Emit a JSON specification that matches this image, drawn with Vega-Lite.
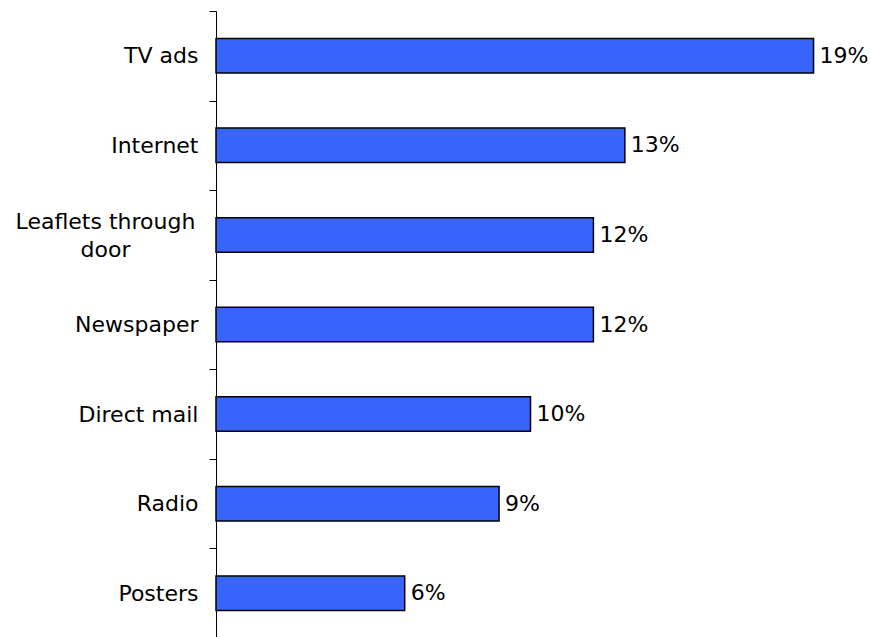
{
  "$schema": "https://vega.github.io/schema/vega-lite/v6.json",
  "autosize": {"type": "none"},
  "padding": {"left": 216, "top": 11, "right": 26, "bottom": 0},
  "width": 629,
  "height": 627,
  "background": "white",
  "config": {
    "view": {"stroke": null},
    "font": "DejaVu Sans"
  },
  "data": {
    "values": [
      {"source": "TV ads", "share": 0.19},
      {"source": "Internet", "share": 0.13},
      {"source": "Leaflets through door", "share": 0.12},
      {"source": "Newspaper", "share": 0.12},
      {"source": "Direct mail", "share": 0.10},
      {"source": "Radio", "share": 0.09},
      {"source": "Posters", "share": 0.06}
    ]
  },
  "encoding": {
    "y": {
      "field": "source",
      "type": "nominal",
      "sort": null,
      "scale": {"paddingInner": 0.615, "paddingOuter": 0.3075},
      "axis": {
        "title": null,
        "domainColor": "black",
        "domainWidth": 1,
        "tickColor": "black",
        "tickSize": 7,
        "tickOffset": -44.75,
        "labelOffset": {"condition": {"test": "datum.value === 'Leaflets through door'", "value": 31.5}, "value": 44.75},
        "labelFont": "DejaVu Sans",
        "labelFontSize": 22,
        "labelColor": "black",
        "labelLineHeight": 28,
        "labelLimit": 0,
        "labelAlign": {"condition": {"test": "datum.value === 'Leaflets through door'", "value": "center"}, "value": "right"},
        "labelPadding": {"condition": {"test": "datum.value === 'Leaflets through door'", "value": 104}, "value": 11},
        "labelExpr": "datum.value === 'Leaflets through door' ? ['Leaflets through', 'door'] : datum.value"
      }
    },
    "x": {
      "field": "share",
      "type": "quantitative",
      "scale": {"domain": [0, 0.2], "nice": false},
      "axis": null
    }
  },
  "layer": [
    {
      "mark": {"type": "bar", "color": "#3864FB", "stroke": "black", "strokeWidth": 1.5}
    },
    {
      "mark": {"type": "text", "align": "left", "baseline": "middle", "dx": 6, "fontSize": 22, "color": "black", "font": "DejaVu Sans"},
      "encoding": {"text": {"field": "share", "type": "quantitative", "format": ".0%"}}
    }
  ]
}
